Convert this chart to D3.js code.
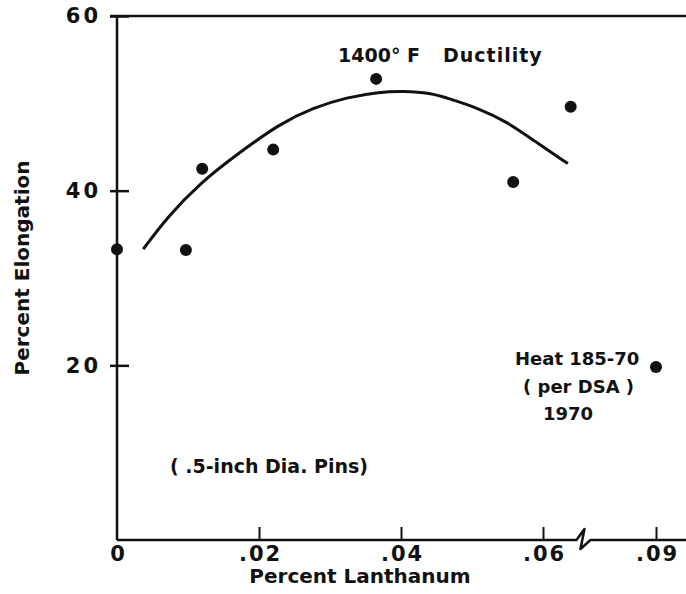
<!DOCTYPE html>
<html>
<head>
<meta charset="utf-8">
<script src="https://cdn.jsdelivr.net/npm/d3@7"></script>
<style>
  html, body { margin: 0; padding: 0; background: #fff; }
  svg text { font-family: "DejaVu Sans", sans-serif; font-weight: bold; fill: #111; }
</style>
</head>
<body>
<div id="chart"></div>
<script>
// measured points (percent lanthanum, percent elongation)
const lanthanum = [0, 0.0097, 0.0120, 0.0220, 0.0365, 0.0558, 0.0639, 0.09];
const elongation = [33.3, 33.2, 42.5, 44.7, 52.8, 41.0, 49.6, 19.8];

// hand-drawn trend curve
const curveX = [0.0037, 0.0070, 0.0117, 0.0173, 0.0230, 0.0276, 0.0324, 0.0370, 0.0403, 0.0441, 0.0469, 0.0507, 0.0549, 0.0586, 0.0635];
const curveY = [33.3, 36.9, 40.9, 44.4, 47.7, 49.5, 50.7, 51.3, 51.4, 51.2, 50.5, 49.5, 47.9, 45.8, 43.1];

const xTicks = [0, 0.02, 0.04, 0.06, 0.09];
const xTickLabels = ['0', '.02', '.04', '.06', '.09'];
const yTicks = [20, 40, 60];
const axisBreak = 0.0657;

const width = 686;
const height = 594;
const plotLeft = 117;
const plotTop = 16;
const plotBottom = 540;

// broken axis: linear up to the break, then squeezed to .09
const x = d3.scaleLinear()
  .domain([0, 0.066, 0.09])
  .range([plotLeft, plotLeft + 0.066 * 7100, 656]);

const y = d3.scaleLinear()
  .domain([0, 60])
  .range([plotBottom, plotTop]);

const svg = d3.select('#chart')
  .append('svg')
  .attr('width', width)
  .attr('height', height);

// y axis
const yAxis = svg.append('g')
  .attr('transform', `translate(${plotLeft},0)`)
  .call(d3.axisLeft(y).tickValues(yTicks).tickSize(7).tickPadding(9).tickFormat(d3.format('d')));
yAxis.select('.domain').remove();
yAxis.selectAll('line')
  .attr('x1', 12)
  .attr('x2', -7)
  .attr('stroke', '#111')
  .attr('stroke-width', 2.5);
yAxis.selectAll('text')
  .attr('font-size', 21)
  .attr('letter-spacing', 3)
  .attr('font-family', '"DejaVu Sans", sans-serif')
  .attr('font-weight', 'bold')
  .attr('fill', '#111');

svg.append('line')
  .attr('x1', plotLeft).attr('x2', plotLeft)
  .attr('y1', y(60)).attr('y2', y(0))
  .attr('stroke', '#111').attr('stroke-width', 2.5);

// top border
svg.append('line')
  .attr('x1', plotLeft - 7).attr('x2', width)
  .attr('y1', y(60)).attr('y2', y(60))
  .attr('stroke', '#111').attr('stroke-width', 2.5);

// x axis
const xAxis = svg.append('g')
  .attr('transform', `translate(0,${y(0)})`)
  .call(d3.axisBottom(x).tickValues(xTicks).tickSize(-13).tickPadding(6)
    .tickFormat((d, i) => xTickLabels[i]));
xAxis.select('.domain').remove();
xAxis.selectAll('line')
  .attr('stroke', '#111')
  .attr('stroke-width', 2)
  .attr('opacity', (d) => d === 0 ? 0 : 1);
xAxis.selectAll('text')
  .attr('font-size', 21)
  .attr('letter-spacing', 2)
  .attr('dx', 1)
  .attr('font-family', '"DejaVu Sans", sans-serif')
  .attr('font-weight', 'bold')
  .attr('fill', '#111');

const bx = x(axisBreak);
const y0 = y(0);
svg.append('path')
  .attr('d', `M${plotLeft},${y0} H${bx - 7} L${bx + 1},${y0 - 11} L${bx - 3},${y0 + 9} L${bx + 7},${y0} H${width}`)
  .attr('fill', 'none')
  .attr('stroke', '#111')
  .attr('stroke-width', 2.5)
  .attr('stroke-linejoin', 'round');

// trend curve
const line = d3.line()
  .x((d, i) => x(curveX[i]))
  .y((d) => y(d))
  .curve(d3.curveBasis);

svg.append('path')
  .datum(curveY)
  .attr('d', line)
  .attr('fill', 'none')
  .attr('stroke', '#111')
  .attr('stroke-width', 3);

// points
svg.selectAll('circle.pt')
  .data(elongation)
  .join('circle')
  .attr('class', 'pt')
  .attr('cx', (d, i) => x(lanthanum[i]))
  .attr('cy', (d) => y(d))
  .attr('r', 6)
  .attr('fill', '#111');

// labels
svg.append('text')
  .attr('x', 360)
  .attr('y', 583)
  .attr('text-anchor', 'middle')
  .attr('font-size', 20)
  .text('Percent Lanthanum');

svg.append('text')
  .attr('transform', `translate(29,268) rotate(-90)`)
  .attr('text-anchor', 'middle')
  .attr('font-size', 20)
  .text('Percent Elongation');

const title = svg.append('text')
  .attr('y', 62)
  .attr('font-size', 19);
title.append('tspan').attr('x', 338).text('1400° F');
title.append('tspan').attr('x', 443).attr('letter-spacing', 1).text('Ductility');

svg.append('text')
  .attr('x', 170)
  .attr('y', 473)
  .attr('font-size', 19)
  .text('( .5-inch Dia. Pins)');

const noteLines = ['Heat 185-70', '( per DSA )', '1970'];
const noteX = [515, 523, 543];
svg.selectAll('text.note')
  .data(noteLines)
  .join('text')
  .attr('class', 'note')
  .attr('x', (d, i) => noteX[i])
  .attr('y', (d, i) => 365 + i * 27.5)
  .attr('font-size', 18)
  .text((d) => d);
</script>
</body>
</html>
